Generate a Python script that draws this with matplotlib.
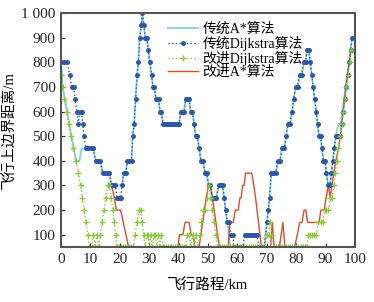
import matplotlib
matplotlib.use("Agg")
import matplotlib.pyplot as plt

plt.rcParams['font.family'] = ['Liberation Serif', 'Noto Sans CJK SC']

# 传统Dijkstra算法
bx = [0, 1, 2, 3, 3.7, 4.3, 4.8, 5.4, 5.9, 6.4, 7.0, 7.4, 7.9, 8.5, 9.3, 10.1, 10.9,
      11.8, 12.6, 13.4, 14.2, 15.0, 15.8, 16.5, 17.2, 17.9, 18.5, 19.1, 19.8, 20.3,
      20.8, 21.3, 22.0, 22.6, 23.3, 24.0, 24.4, 24.9, 25.4, 25.9, 26.3, 26.8, 27.3,
      27.7, 28.2, 28.7, 29.2, 29.7, 30.2, 30.8, 31.3, 31.8, 32.3, 32.8, 33.2, 33.7,
      34.2, 34.7, 35.2, 35.7, 36.2, 36.7, 37.2, 37.7, 38.2, 38.7, 39.2, 39.7, 40.2,
      40.7, 41.3, 41.9, 42.4, 43.0, 43.6, 44.1, 44.7, 45.3, 45.8, 46.4, 47.0, 47.6,
      48.3, 49.0, 49.6, 50.2, 50.8, 51.5, 52.2, 52.9, 53.6, 54.3, 55.0, 55.5, 56.0,
      56.6, 57.2, 57.8, 58.4, 58.9, 59.5, 60.1, 60.7, 61.3, 61.9, 62.5, 63.1, 63.7,
      64.3, 64.9, 65.5, 66.1, 66.7, 67.3, 67.9, 68.5, 69.1, 70.1, 70.5, 71.0, 71.5,
      72.2, 73.0, 73.8, 74.5, 75.2, 76.0, 76.6, 77.2, 77.9, 78.6, 79.2, 79.8, 80.5,
      81.2, 81.9, 82.6, 83.2, 83.7, 84.3, 84.8, 85.3, 85.8, 86.3, 86.8, 87.3, 87.8,
      88.3, 88.8, 89.3, 89.8, 90.3, 90.9, 91.5, 92.0, 92.5, 93.0, 93.6, 94.3, 95.0,
      95.5, 96.0, 96.5, 97.0, 97.6, 98.1, 98.6, 99.1, 100]
by = [800, 800, 800, 750, 700, 700, 650, 600, 550, 600, 600, 550, 500, 450, 450, 450, 450,
      400, 400, 400, 350, 350, 350, 350, 300, 300, 300, 250, 250, 250,
      300, 350, 350, 400, 400, 400, 500, 550, 650, 750, 800, 900, 950,
      1000, 950, 900, 900, 850, 800, 750, 700, 700, 650, 650, 650, 600,
      600, 550, 550, 550, 550, 550, 550, 550, 550, 550, 550, 550, 550,
      600, 600, 600, 650, 650, 650, 600, 600, 550, 500, 500, 450, 400,
      400, 350, 350, 300, 300, 250, 250, 250, 300, 300, 300, 250, 200,
      150, 150, 100, 100, 50, 50, 50, 50, 50, 50, 100, 100, 100,
      100, 100, 100, 100, 100, 50, 50, 50, 50, 150, 200, 250, 350,
      350, 350, 400, 400, 450, 450, 500, 550, 550, 600, 650, 700, 700,
      750, 750, 800, 800, 850, 850, 800, 750, 700, 650, 600, 550, 500,
      500, 450, 400, 400, 350, 300, 300, 350, 400, 450, 500, 500, 500,
      550, 600, 650, 700, 750, 800, 850, 900, 900]

# 传统A*算法
ax_ = [0, 0.6, 5.1, 6.3, 7.0, 11.0, 11.8, 13.4, 14.2, 16.5, 17.2, 20.8, 21.3, 22.0, 22.6,
       24.0, 24.4, 24.9, 25.4, 25.9, 26.3, 26.8, 27.3, 27.7, 28.2, 28.7, 29.2, 29.7,
       30.2, 30.8, 31.3, 31.8, 32.3, 33.2, 33.7, 34.2, 34.7, 40.2, 40.7, 41.9, 42.4,
       43.6, 44.1, 44.7, 45.3, 45.8, 46.4, 47.0, 47.6, 48.3, 49.0, 49.6, 50.2, 50.8,
       51.5, 52.9, 53.6, 55.0, 55.5, 56.0, 56.6, 57.6, 69.1, 70.1, 70.5, 71.0, 71.5,
       73.0, 73.8, 74.5, 75.2, 76.0, 76.6, 77.2, 77.9, 78.6, 79.2, 79.8, 80.5, 81.2,
       81.9, 82.6, 83.2, 83.7, 84.3, 84.8, 85.3, 85.8, 86.3, 86.8, 87.3, 87.8, 88.3,
       88.8, 89.3, 89.8, 90.3, 90.9, 91.5, 92.0, 92.5, 93.0, 93.5, 94.4, 95.2, 95.7,
       96.3, 96.8, 97.4, 98.0, 98.5, 99.0, 100]
ay = [800, 700, 400, 400, 450, 450, 400, 400, 350, 350, 300, 300, 350, 350, 400,
      400, 500, 550, 650, 750, 800, 900, 950, 1000, 950, 900, 900, 850,
      800, 750, 700, 700, 650, 650, 600, 600, 550, 550, 600, 600, 650,
      650, 600, 600, 550, 500, 500, 450, 400, 400, 350, 350, 300, 300,
      250, 250, 300, 300, 250, 200, 150, 50, 50, 150, 200, 250, 350,
      350, 400, 400, 450, 450, 500, 550, 550, 600, 650, 700, 700, 750,
      750, 800, 800, 850, 850, 800, 750, 700, 650, 600, 550, 500, 500,
      450, 400, 400, 350, 300, 300, 350, 400, 450, 500, 550, 550, 600,
      650, 700, 750, 800, 850, 900, 900]

# 改进Dijkstra算法
gx = [0, 0.6, 1.2, 1.9, 2.6, 3.3, 4.2, 5.1, 5.9, 6.7, 7.3, 7.9, 8.5, 9.1, 9.7,
      10.4, 11.0, 11.6, 12.2, 12.8, 13.4, 14.0, 14.6, 15.2, 15.9, 16.5, 17.1, 17.6,
      18.1, 18.6, 19.1, 19.7, 20.4, 21.1, 21.8, 22.5, 23.2, 23.9, 24.6, 25.2, 25.8,
      26.5, 27.1, 27.6, 28.1, 28.6, 29.1, 29.6, 30.1, 30.6, 31.1, 31.6, 32.1, 32.6,
      33.1, 33.6, 34.1, 34.6, 35.2, 35.8, 36.4, 37.0, 37.6, 38.2, 38.8, 39.4, 40.0,
      40.6, 41.2, 41.8, 42.4, 43.0, 43.6, 44.2, 44.8, 45.4, 46.0, 46.6, 47.2, 47.8,
      48.4, 49.0, 49.6, 50.3, 50.9, 51.5, 52.1, 52.7, 53.3, 54.0, 54.7, 55.4, 56.1,
      56.8, 57.5, 58.2, 58.9, 59.6, 60.3, 61.0, 61.7, 62.4, 63.1, 63.8, 64.5, 65.2,
      65.9, 66.6, 67.3, 68.0, 68.7, 69.4, 70.0, 70.6, 71.2, 71.8, 72.4, 73.1, 73.8,
      74.5, 75.2, 75.9, 76.6, 77.3, 78.0, 78.7, 79.4, 80.1, 80.8, 81.5, 82.2, 82.9,
      83.6, 84.2, 84.8, 85.5, 86.2, 86.9, 87.6, 88.3, 89.0, 89.7, 90.3, 91.0, 91.6,
      92.3, 92.8, 93.3, 93.8, 94.4, 94.9, 95.5, 96.1, 96.6, 97.1, 97.7, 98.3, 98.8,
      99.6]
gy = [750, 700, 650, 600, 550, 500, 450, 400, 350, 300, 250, 200, 150, 100, 50,
      50, 100, 50, 100, 50, 100, 150, 200, 250, 300, 300, 250, 200,
      150, 100, 50, 50, 50, 50, 50, 50, 50, 50, 50, 100, 150,
      200, 200, 150, 100, 50, 100, 100, 50, 100, 50, 100, 100, 50,
      100, 50, 100, 50, 50, 50, 50, 50, 50, 50, 50, 50, 50,
      50, 50, 50, 50, 100, 100, 50, 100, 50, 100, 50, 100, 150,
      200, 200, 250, 300, 250, 200, 150, 100, 50, 50, 50, 50, 50,
      50, 50, 50, 50, 50, 50, 50, 50, 50, 50, 50, 50, 50,
      50, 50, 50, 50, 50, 50, 100, 100, 150, 100, 50, 50, 50,
      50, 50, 50, 50, 50, 50, 50, 50, 50, 50, 50, 50, 50,
      50, 100, 100, 100, 100, 100, 150, 150, 150, 200, 200, 200, 250,
      250, 300, 350, 400, 450, 500, 550, 600, 650, 700, 750, 800, 850,
      850]

# 改进A*算法
rx = [16.2, 17.2, 18.2, 18.8, 20.3, 21.2, 22.1, 23.0, 39.8, 40.3, 41.5, 42.2, 43.6,
      44.3, 45.0, 45.5, 47.0, 47.6, 48.2, 48.8, 49.4, 50.2, 50.9, 51.5, 52.1, 52.7,
      53.3, 53.9, 56.9, 57.4, 58.6, 59.3, 60.3, 60.9, 61.3, 61.8, 62.3, 62.8, 64.9,
      65.6, 66.2, 66.7, 67.2, 67.7, 68.2, 71.3, 71.9, 72.5, 74.3, 74.9, 75.5, 76.2,
      79.5, 80.4, 81.2, 82.0, 82.7, 83.3, 83.9, 87.8, 88.4, 89.5, 90.2, 91.0, 91.6,
      92.2, 92.8, 93.5, 94.4, 95.0, 95.5, 96.0, 96.5, 97.0, 97.5, 98.1, 98.6, 99.5]
ry = [300, 300, 250, 200, 200, 150, 100, 50, 50, 100, 100, 150, 150,
      100, 100, 50, 50, 100, 150, 200, 250, 300, 300, 250, 200, 150,
      100, 50, 50, 150, 150, 200, 200, 250, 250, 300, 300, 350, 350,
      300, 250, 200, 150, 100, 50, 50, 150, 50, 50, 100, 150, 50,
      50, 100, 150, 150, 200, 200, 150, 150, 200, 200, 250, 300, 250,
      300, 350, 400, 450, 500, 550, 600, 650, 700, 750, 800, 850, 850]

xticks = [0, 10, 20, 30, 40, 50, 60, 70, 80, 90, 100]
yticks = [100, 200, 300, 400, 500, 600, 700, 800, 900, 1000]
ytick_labels = ['100', '200', '300', '400', '500', '600', '700', '800', '900', '1 000']

fig = plt.figure(figsize=(3.74, 3.02), dpi=100)
ax = fig.add_axes([0.163, 0.182, 0.786, 0.775])

ax.plot(ax_, ay, color='#86d3d8', linewidth=1.3, label='传统A*算法', zorder=1)
ax.plot(rx, ry, color='#e04a2c', linewidth=1.0, label='改进A*算法', zorder=1.5)
ax.plot(bx, by, color='#2f57a8', linestyle=':', linewidth=1.0, marker='o',
        markersize=3.6, markeredgewidth=0, label='传统Dijkstra算法', zorder=2)
ax.plot(gx, gy, color='#8cc540', linestyle=':', linewidth=1.0, marker='+',
        markersize=5, markeredgewidth=1.0, label='改进Dijkstra算法', zorder=2.2)

ax.set_xlim(0, 100)
ax.set_ylim(50, 1000)
ax.set_xticks(xticks)
ax.set_yticks(yticks)
ax.set_yticklabels(ytick_labels)
ax.tick_params(direction='in', length=3, width=0.8, colors='#222222', labelsize=11, pad=4)
for s in ax.spines.values():
    s.set_color('#555555')
    s.set_linewidth(1.5)

ax.set_xlabel('飞行路程/km', fontsize=10.5, labelpad=9)
ax.set_ylabel('飞行上边界距离/m', fontsize=10.5, labelpad=3)

h, l = ax.get_legend_handles_labels()
order = [0, 2, 3, 1]
ax.legend([h[i] for i in order], [l[i] for i in order], loc='upper left',
          bbox_to_anchor=(0.33, 1.0), frameon=False, fontsize=10,
          labelspacing=0.0, handlelength=2.2, handletextpad=0.3, borderaxespad=0.3)

fig.savefig('out.png', dpi=100)
